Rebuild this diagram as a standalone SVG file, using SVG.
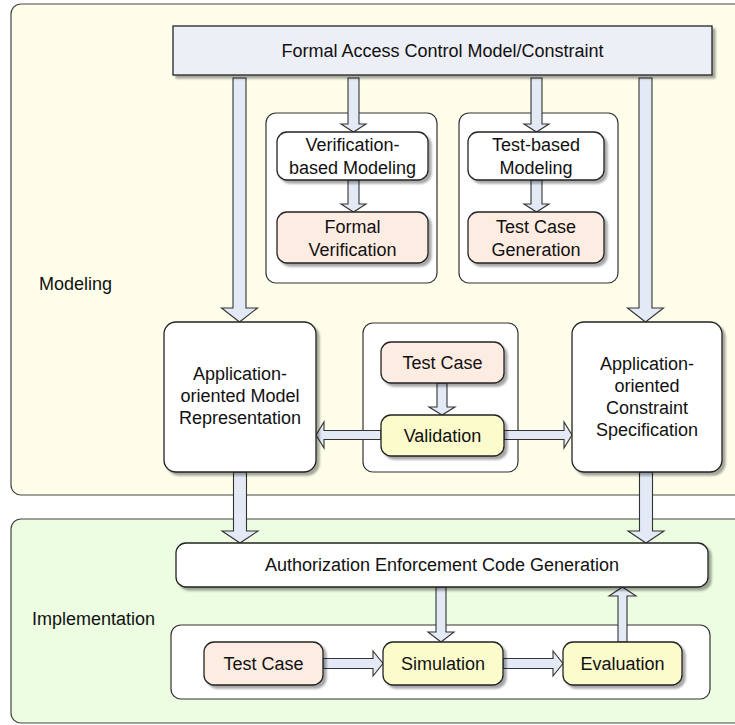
<svg xmlns="http://www.w3.org/2000/svg" width="735" height="725" viewBox="0 0 735 725">
  <defs>
    <filter id="shadow" x="-10%" y="-10%" width="130%" height="140%">
      <feDropShadow dx="3" dy="3" stdDeviation="0.8" flood-color="#000" flood-opacity="0.35"/>
    </filter>
  </defs>
  <style>
    text { font-family: "Liberation Sans", Arial, sans-serif; font-size: 18px; fill: #111; }
    .mid { text-anchor: middle; }
    .panel { stroke: #444; stroke-width: 1.2; }
    .group { fill: #fff; stroke: #333; stroke-width: 1.2; }
    .node { fill: #fff; stroke: #222; stroke-width: 1.3; filter: url(#shadow); }
    .peach { fill: #fcece1; }
    .yellow { fill: #fbfbcc; }
    .head { fill: #eceff5; stroke: #222; stroke-width: 1.3; filter: url(#shadow); }
    .arrow { fill: #e3eaf6; stroke: #333; stroke-width: 1.1; stroke-linejoin: miter; }
  </style>

  <!-- swimlane panels -->
  <g id="modeling-panel">
    <rect class="panel" x="11" y="4" width="740" height="491" rx="10" fill="#fefeea"/>
    <text x="39" y="290">Modeling</text>
  </g>
  <g id="implementation-panel">
    <rect class="panel" x="11" y="519" width="740" height="204" rx="10" fill="#ecfde1"/>
    <text x="32" y="625">Implementation</text>
  </g>

  <!-- grouping frames -->
  <g id="verification-group">
    <rect class="group" x="266" y="113" width="171" height="170" rx="10"/>
  </g>
  <g id="test-group">
    <rect class="group" x="459" y="113" width="159" height="170" rx="10"/>
  </g>
  <g id="validation-group">
    <rect class="group" x="363" y="323" width="155" height="149" rx="10"/>
  </g>
  <g id="implementation-group">
    <rect class="group" x="171" y="625" width="539" height="74" rx="10"/>
  </g>

  <!-- block arrows -->
  <g id="connectors">
    <polygon class="arrow" points="233,78 246,78 246,308 257.5,308 239.5,322 221.5,308 233,308"/>
    <polygon class="arrow" points="639,78 652,78 652,308 663.5,308 645.5,322 627.5,308 639,308"/>
    <polygon class="arrow" points="348,78 359,78 359,124 366,124 353.5,132 341,124 348,124"/>
    <polygon class="arrow" points="531,78 542,78 542,124 549,124 536.5,132 524,124 531,124"/>
    <polygon class="arrow" points="348,180 359,180 359,204 366,204 353.5,212 341,204 348,204"/>
    <polygon class="arrow" points="531,180 542,180 542,204 549,204 536.5,212 524,204 531,204"/>
    <polygon class="arrow" points="437,383 447,383 447,407 455,407 442,415 429,407 437,407"/>
    <polygon class="arrow" points="381,430.5 381,439.5 324,439.5 324,448 316,435 324,422 324,430.5"/>
    <polygon class="arrow" points="504,430.5 504,439.5 564,439.5 564,448 572,435 564,422 564,430.5"/>
    <polygon class="arrow" points="233.5,472 246.5,472 246.5,531 258,531 240,543 222,531 233.5,531"/>
    <polygon class="arrow" points="639.5,472 652.5,472 652.5,531 664,531 646,543 628,531 639.5,531"/>
    <polygon class="arrow" points="436,587 446,587 446,632 454,632 441,642 428,632 436,632"/>
    <polygon class="arrow" points="618,642 627,642 627,596 636,596 622.5,587 609,596 618,596"/>
    <polygon class="arrow" points="323,658.5 323,668.5 373,668.5 373,676 383,663.5 373,651 373,658.5"/>
    <polygon class="arrow" points="503,658.5 503,668.5 553,668.5 553,676 563,663.5 553,651 553,658.5"/>
  </g>

  <!-- nodes -->
  <g id="formal-model">
    <rect class="head" x="173" y="26" width="539" height="49"/>
    <text class="mid" x="442.5" y="57">Formal Access Control Model/Constraint</text>
  </g>
  <g id="verification-modeling">
    <rect class="node" x="277" y="132" width="151" height="48" rx="10"/>
    <text class="mid" x="352.5" y="151">Verification-</text>
    <text class="mid" x="352.5" y="174">based Modeling</text>
  </g>
  <g id="formal-verification">
    <rect class="node peach" x="277" y="212" width="151" height="51" rx="10"/>
    <text class="mid" x="352.5" y="233">Formal</text>
    <text class="mid" x="352.5" y="256">Verification</text>
  </g>
  <g id="test-modeling">
    <rect class="node" x="468" y="132" width="136" height="48" rx="10"/>
    <text class="mid" x="536" y="151">Test-based</text>
    <text class="mid" x="536" y="174">Modeling</text>
  </g>
  <g id="test-case-generation">
    <rect class="node peach" x="468" y="212" width="136" height="51" rx="10"/>
    <text class="mid" x="536" y="233">Test Case</text>
    <text class="mid" x="536" y="256">Generation</text>
  </g>
  <g id="model-representation">
    <rect class="node" x="164" y="322" width="152" height="150" rx="12"/>
    <text class="mid" x="240" y="380">Application-</text>
    <text class="mid" x="240" y="402">oriented Model</text>
    <text class="mid" x="240" y="424">Representation</text>
  </g>
  <g id="constraint-specification">
    <rect class="node" x="572" y="322" width="150" height="150" rx="12"/>
    <text class="mid" x="647" y="370">Application-</text>
    <text class="mid" x="647" y="392">oriented</text>
    <text class="mid" x="647" y="414">Constraint</text>
    <text class="mid" x="647" y="436">Specification</text>
  </g>
  <g id="validation-test-case">
    <rect class="node peach" x="381" y="342" width="123" height="41" rx="10"/>
    <text class="mid" x="442.5" y="369">Test Case</text>
  </g>
  <g id="validation">
    <rect class="node yellow" x="381" y="415" width="123" height="41" rx="10"/>
    <text class="mid" x="442.5" y="442">Validation</text>
  </g>
  <g id="code-generation">
    <rect class="node" x="176" y="543" width="532" height="44" rx="10"/>
    <text class="mid" x="442" y="571">Authorization Enforcement Code Generation</text>
  </g>
  <g id="impl-test-case">
    <rect class="node peach" x="204" y="642" width="119" height="43" rx="10"/>
    <text class="mid" x="263.5" y="670">Test Case</text>
  </g>
  <g id="simulation">
    <rect class="node yellow" x="383" y="642" width="120" height="43" rx="10"/>
    <text class="mid" x="443" y="670">Simulation</text>
  </g>
  <g id="evaluation">
    <rect class="node yellow" x="563" y="642" width="119" height="43" rx="10"/>
    <text class="mid" x="622.5" y="670">Evaluation</text>
  </g>
</svg>
